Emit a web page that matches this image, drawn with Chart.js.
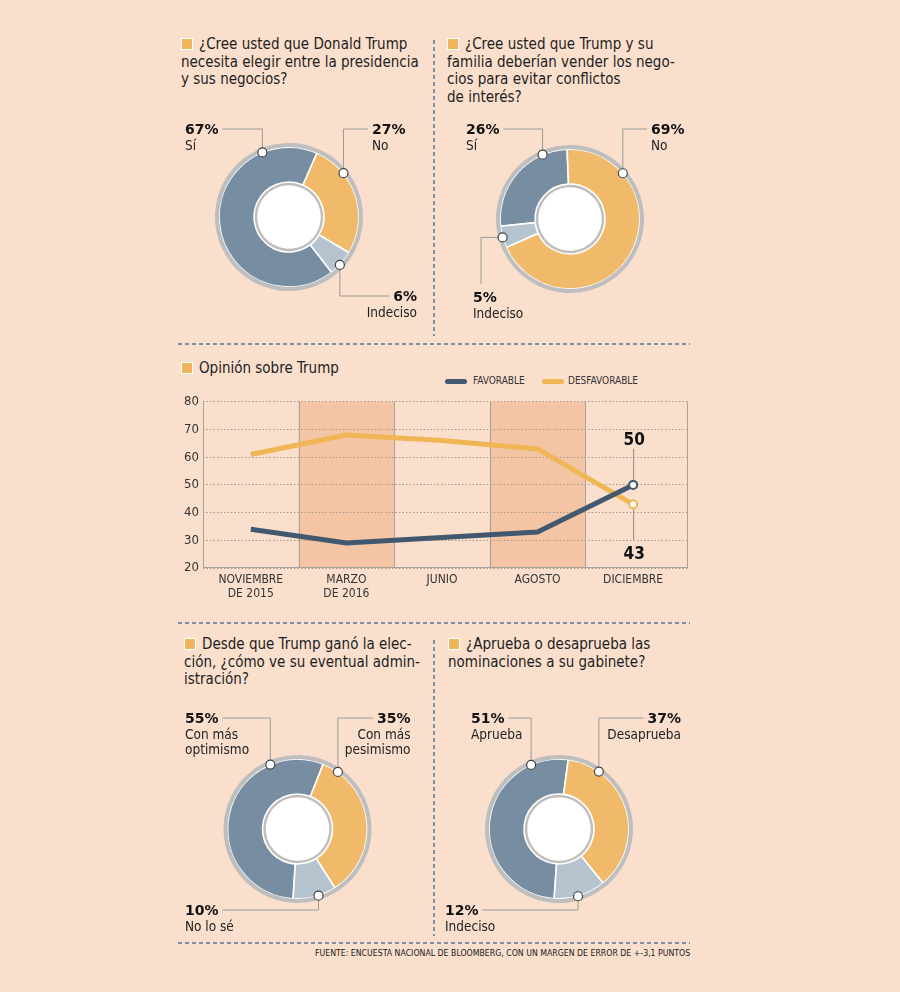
<!DOCTYPE html>
<html><head><meta charset="utf-8">
<script src="https://cdn.jsdelivr.net/npm/chart.js@4.4.1/dist/chart.umd.min.js"></script>
<style>
html,body{margin:0;padding:0;}
body{width:900px;height:992px;background:#F9DFCC;position:relative;overflow:hidden;font-family:'DejaVu Sans Condensed','DejaVu Sans',sans-serif;color:#1e1e1e;}
.title{position:absolute;font-size:15px;line-height:17.5px;white-space:nowrap;}
.sq{display:inline-block;width:10px;height:10px;background:#EFB45C;border:1px solid #fff;margin-right:6px;vertical-align:-1px;}
canvas{position:absolute;}
.abs{position:absolute;white-space:nowrap;}
.bar{position:absolute;height:5px;border-radius:3px;}
.leg{position:absolute;font-size:10px;line-height:12px;color:#333;}
</style></head><body>

<svg class="abs" style="left:0;top:0" width="900" height="992">
 <g stroke="#7D90A5" stroke-width="2" stroke-dasharray="4 3" fill="none">
  <line x1="178" y1="344" x2="690" y2="344"/>
  <line x1="178" y1="623" x2="690" y2="623"/>
  <line x1="178" y1="943" x2="690" y2="943"/>
  <line x1="434" y1="40" x2="434" y2="336"/>
  <line x1="434" y1="640" x2="434" y2="936"/>
 </g>
</svg>

<div class="title" style="left:181px;top:36px"><span class="sq"></span>¿Cree usted que Donald Trump<br>necesita elegir entre la presidencia<br>y sus negocios?</div>
<div class="title" style="left:447px;top:36px"><span class="sq"></span>¿Cree usted que Trump y su<br>familia deberían vender los nego-<br>cios para evitar conflictos<br>de interés?</div>
<div class="title" style="left:181px;top:360px"><span class="sq"></span>Opinión sobre Trump</div>
<div class="title" style="left:184px;top:636px"><span class="sq"></span>Desde que Trump ganó la elec-<br>ción, ¿cómo ve su eventual admin-<br>istración?</div>
<div class="title" style="left:448px;top:636px"><span class="sq"></span>¿Aprueba o desaprueba las<br>nominaciones a su gabinete?</div>

<div class="bar" style="left:445px;top:379px;width:22px;background:#41586E"></div>
<div class="leg" style="left:473px;top:375px">FAVORABLE</div>
<div class="bar" style="left:542px;top:379px;width:22px;background:#F0B655"></div>
<div class="leg" style="left:568px;top:375px">DESFAVORABLE</div>

<div class="abs" style="left:315px;top:948px;font-size:8.7px;line-height:11px;color:#222">FUENTE: ENCUESTA NACIONAL DE BLOOMBERG, CON UN MARGEN DE ERROR DE +-3,1 PUNTOS</div>

<canvas id="d1"></canvas>
<canvas id="d2"></canvas>
<canvas id="line"></canvas>
<canvas id="d3"></canvas>
<canvas id="d4"></canvas>

<script>
// ---------- DATA ----------
const q1Labels = ['Sí', 'No', 'Indeciso'];
const q1Values = [67, 27, 6];
const q2Labels = ['Sí', 'No', 'Indeciso'];
const q2Values = [26, 69, 5];
const q3Labels = ['Con más\noptimismo', 'Con más\npesimismo', 'No lo sé'];
const q3Values = [55, 35, 10];
const q4Labels = ['Aprueba', 'Desaprueba', 'Indeciso'];
const q4Values = [51, 37, 12];

const months = [['NOVIEMBRE','DE 2015'], ['MARZO','DE 2016'], ['JUNIO'], ['AGOSTO'], ['DICIEMBRE']];
const favorable = [34, 29, 31, 33, 50];
const desfavorable = [61, 68, 66, 63, 43];
const yTicks = [20, 30, 40, 50, 60, 70, 80];

// ---------- STYLE ----------
const COND = "'DejaVu Sans Condensed','DejaVu Sans',sans-serif";
const SANS = "'DejaVu Sans',sans-serif";
Chart.defaults.font.family = COND;
const sliceColors = ['#778DA1', '#F0BA6A', '#B5C3CE'];
const RING = '#BEBEBE';

const donutLabels = {
  id: 'donutLabels',
  afterDraw(chart, args, opts) {
    const ctx = chart.ctx;
    const meta = chart.getDatasetMeta(1);
    const arc = meta.data[0];
    const cx = arc.x, cy = arc.y, r = arc.outerRadius;
    const ds = chart.data.datasets[1];
    ctx.save();
    opts.items.forEach((it, i) => {
      const a = (it.angle - 90) * Math.PI / 180;
      const dx = cx + r * Math.cos(a), dy = cy + r * Math.sin(a);
      const tx = cx + it.tx, ty = cy + it.ty;
      const pct = ds.data[i] + '%';
      ctx.font = 'bold 14px ' + SANS;
      const pw = ctx.measureText(pct).width;
      const tl = it.align === 'left' ? tx : tx - pw;
      const tr = tl + pw;
      ctx.strokeStyle = '#9a9a9a';
      ctx.lineWidth = 1;
      ctx.beginPath();
      ctx.moveTo(dx, dy);
      if (it.elbow === 'h') {
        const hx = cx + it.hx;
        ctx.lineTo(hx, dy);
        ctx.lineTo(hx, ty - 13);
      } else {
        ctx.lineTo(dx, ty);
        ctx.lineTo(dx > tr ? tr + 4 : tl - 4, ty);
      }
      ctx.stroke();
      ctx.beginPath();
      ctx.arc(dx, dy, 4.5, 0, Math.PI * 2);
      ctx.fillStyle = '#fff';
      ctx.fill();
      ctx.strokeStyle = '#444';
      ctx.lineWidth = 1.2;
      ctx.stroke();
      ctx.fillStyle = '#111';
      ctx.textBaseline = 'middle';
      ctx.textAlign = it.align;
      ctx.fillText(pct, tx, ty + 1);
      ctx.font = '13.5px ' + COND;
      ctx.fillStyle = '#222';
      chart.data.labels[i].split('\n').forEach((ln, k) => {
        ctx.fillText(ln, tx, ty + 17 + k * 15);
      });
    });
    ctx.restore();
  }
};

function makeDonut(id, rect, center, labels, values, rotation, items) {
  const cv = document.getElementById(id);
  cv.style.left = rect[0] + 'px'; cv.style.top = rect[1] + 'px';
  cv.style.width = rect[2] + 'px'; cv.style.height = rect[3] + 'px';
  cv.width = rect[2]; cv.height = rect[3];
  const R = 74;
  const lx = center[0] - rect[0], ly = center[1] - rect[1];
  new Chart(cv, {
    type: 'doughnut',
    data: {
      labels: labels,
      datasets: [
        { data: [1], backgroundColor: [RING], borderWidth: 0, weight: 4 },
        { data: values, backgroundColor: sliceColors, borderColor: '#fff', borderWidth: 1.6, weight: 34 },
        { data: [1], backgroundColor: [RING], borderWidth: 0, weight: 3 },
        { data: [1], backgroundColor: ['#fff'], borderWidth: 0, weight: 31 }
      ]
    },
    options: {
      responsive: false, animation: false, events: [],
      cutout: 0, rotation: rotation,
      layout: { padding: { left: lx - R, top: ly - R, right: rect[2] - lx - R, bottom: rect[3] - ly - R } },
      plugins: { legend: { display: false }, tooltip: { enabled: false }, donutLabels: { items: items } }
    },
    plugins: [donutLabels]
  });
}

makeDonut('d1', [175, 110, 255, 215], [289, 217], q1Labels, q1Values, 142.4, [
  { angle: 337.6, tx: -104, ty: -88, align: 'left', elbow: 'v' },
  { angle: 51.2, tx: 83, ty: -88, align: 'left', elbow: 'v' },
  { angle: 133.3, tx: 128, ty: 79, align: 'right', elbow: 'v' }
]);
makeDonut('d2', [440, 110, 255, 215], [570, 219], q2Labels, q2Values, 264, [
  { angle: 336.9, tx: -104, ty: -90, align: 'left', elbow: 'v' },
  { angle: 49.1, tx: 81, ty: -90, align: 'left', elbow: 'v' },
  { angle: 254.7, tx: -97, ty: 78, align: 'left', elbow: 'h', hx: -89 }
]);
makeDonut('d3', [175, 700, 255, 235], [297.5, 829], q3Labels, q3Values, 183.6, [
  { angle: 337.1, tx: -112.5, ty: -111, align: 'left', elbow: 'v' },
  { angle: 35.3, tx: 113, ty: -111, align: 'right', elbow: 'v' },
  { angle: 162.5, tx: -112.5, ty: 81, align: 'left', elbow: 'v' }
]);
makeDonut('d4', [440, 700, 255, 235], [559, 829], q4Labels, q4Values, 184, [
  { angle: 336.5, tx: -88, ty: -111, align: 'left', elbow: 'v' },
  { angle: 34.8, tx: 122, ty: -111, align: 'right', elbow: 'v' },
  { angle: 164.2, tx: -114, ty: 81, align: 'left', elbow: 'v' }
]);

// ---------- LINE CHART ----------
const FAV = '#41586E', DES = '#F0B655', AXIS = '#A9A29B';
const linePlugin = {
  id: 'linePlugin',
  beforeDraw(chart, args, opts) {
    const { ctx, chartArea: ca, scales: { x } } = chart;
    ctx.save();
    ctx.fillStyle = '#F3C5A5';
    opts.shaded.forEach(i => {
      const l = x.getPixelForValue(i - 0.5), r = x.getPixelForValue(i + 0.5);
      ctx.fillRect(l, ca.top, r - l, ca.bottom - ca.top);
    });
    ctx.restore();
  },
  beforeDatasetsDraw(chart) {
    const { ctx, chartArea: ca, scales: { x } } = chart;
    ctx.save();
    ctx.strokeStyle = AXIS; ctx.lineWidth = 1;
    ctx.setLineDash([]);
    ctx.beginPath();
    for (let i = 1; i < months.length; i++) {
      const px = Math.round(x.getPixelForValue(i - 0.5)) + 0.5;
      ctx.moveTo(px, ca.top); ctx.lineTo(px, ca.bottom);
    }
    const rx = Math.round(ca.right) - 0.5;
    ctx.moveTo(rx, ca.top); ctx.lineTo(rx, ca.bottom);
    const lxp = Math.round(ca.left) + 0.5;
    ctx.moveTo(lxp, ca.top); ctx.lineTo(lxp, ca.bottom);
    const by = Math.round(ca.bottom) - 0.5;
    ctx.moveTo(ca.left, by); ctx.lineTo(ca.right, by);
    ctx.stroke();
    const n = months.length - 1;
    const pF = chart.getDatasetMeta(0).data[n], pD = chart.getDatasetMeta(1).data[n];
    ctx.strokeStyle = '#8a8a8a';
    ctx.beginPath();
    ctx.moveTo(pF.x + 0.5, pF.y - 36); ctx.lineTo(pF.x + 0.5, pF.y - 5);
    ctx.moveTo(pD.x + 0.5, pD.y + 5); ctx.lineTo(pD.x + 0.5, pD.y + 36);
    ctx.stroke();
    ctx.fillStyle = '#111';
    ctx.font = 'bold 17px ' + COND;
    ctx.textAlign = 'center'; ctx.textBaseline = 'middle';
    ctx.fillText(String(favorable[n]), pF.x + 1, pF.y - 44);
    ctx.fillText(String(desfavorable[n]), pD.x + 1, pD.y + 50);
    ctx.restore();
  }
};

(function () {
  const cv = document.getElementById('line');
  const rect = [170, 390, 530, 215];
  cv.style.left = rect[0] + 'px'; cv.style.top = rect[1] + 'px';
  cv.style.width = rect[2] + 'px'; cv.style.height = rect[3] + 'px';
  cv.width = rect[2]; cv.height = rect[3];
  const pts = arr => arr.map((v, i) => ({ x: i, y: v }));
  const lastOnly = (v) => favorable.map((_, i) => i === favorable.length - 1 ? v : 0);
  new Chart(cv, {
    type: 'line',
    data: {
      datasets: [
        { label: 'FAVORABLE', data: pts(favorable), borderColor: FAV, borderWidth: 5, tension: 0,
          pointRadius: lastOnly(4), pointBackgroundColor: '#fff', pointBorderColor: FAV, pointBorderWidth: 2, clip: false },
        { label: 'DESFAVORABLE', data: pts(desfavorable), borderColor: DES, borderWidth: 5, tension: 0,
          pointRadius: lastOnly(4), pointBackgroundColor: '#fff', pointBorderColor: DES, pointBorderWidth: 2, clip: false }
      ]
    },
    options: {
      responsive: false, animation: false, events: [],
      layout: { padding: { left: 0, right: 12, top: 10, bottom: 0 } },
      plugins: { legend: { display: false }, tooltip: { enabled: false }, linePlugin: { shaded: [1, 3] } },
      scales: {
        x: {
          type: 'linear', min: -0.5, max: 4.574,
          afterBuildTicks: s => { s.ticks = months.map((_, i) => ({ value: i })); },
          afterFit: s => { s.height = 37; },
          grid: { display: false, drawTicks: false },
          border: { display: false },
          ticks: { padding: 5, autoSkip: false, maxRotation: 0, color: '#333', font: { size: 12, lineHeight: 1.15 },
                   callback: v => months[v] }
        },
        y: {
          min: yTicks[0], max: yTicks[yTicks.length - 1],
          afterBuildTicks: s => { s.ticks = yTicks.map(v => ({ value: v })); },
          afterFit: s => { s.width = 33; },
          grid: { color: '#A8968A', lineWidth: 1, drawTicks: false },
          border: { display: false, dash: [1.5, 2] },
          ticks: { padding: 4, color: '#333', font: { size: 13 } }
        }
      }
    },
    plugins: [linePlugin]
  });
})();
</script>
</body></html>
